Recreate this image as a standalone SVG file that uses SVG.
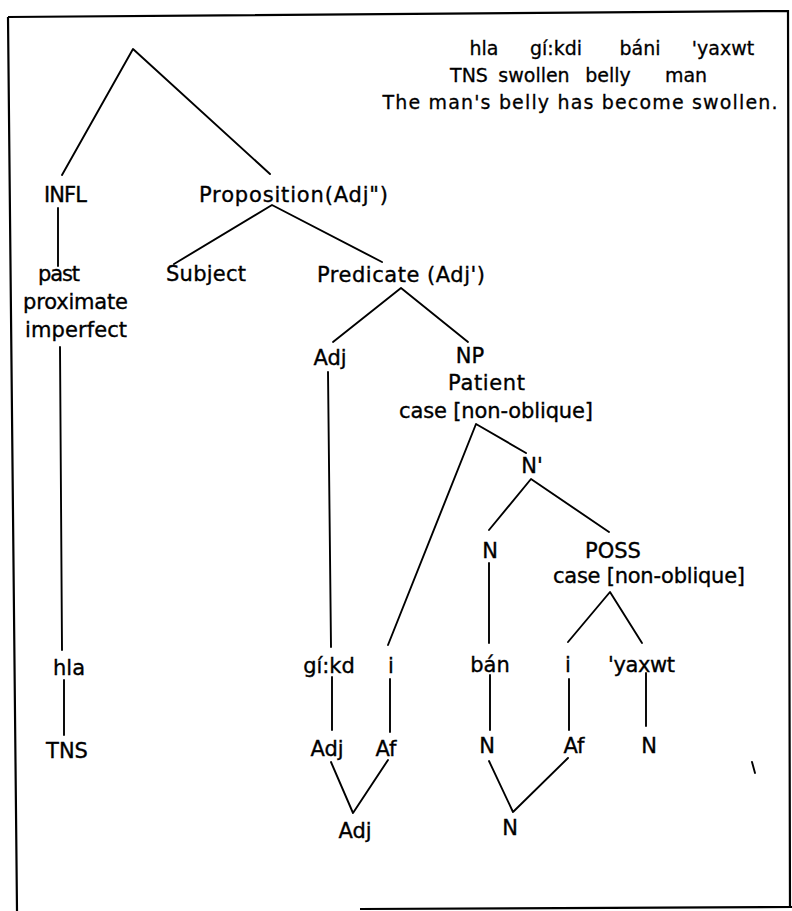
<svg xmlns="http://www.w3.org/2000/svg" width="792" height="911" viewBox="0 0 792 911">
  <style>
    .lbl { font-family: "DejaVu Sans", "Liberation Sans", sans-serif; font-size: 21px; fill: #000; stroke: #000; stroke-width: 0.35; }
    .gl { font-family: "DejaVu Sans", "Liberation Sans", sans-serif; font-size: 19px; fill: #000; stroke: #000; stroke-width: 0.3; text-anchor: middle; }
    .mid { text-anchor: middle; }
    .edge { stroke: #000; stroke-width: 1.9; fill: none; stroke-linecap: round; stroke-linejoin: round; }
    .frame { stroke: #000; stroke-width: 2.2; fill: none; }
  </style>
  <rect width="792" height="911" fill="#fff"/>

  <!-- page frame -->
  <g id="frame">
    <path class="frame" d="M8,17 L788,11 L790,908 M17,911 L8,17 M360,909 L792,907"/>
  </g>

  <!-- interlinear gloss -->
  <g id="gloss">
    <text class="gl" x="484" y="55">hla</text>
    <text class="gl" x="556" y="55">gí:kdi</text>
    <text class="gl" x="640" y="55">báni</text>
    <text class="gl" x="723" y="55">'yaxwt</text>
    <text class="gl" x="469" y="82">TNS</text>
    <text class="gl" x="534" y="82">swollen</text>
    <text class="gl" x="608" y="82">belly</text>
    <text class="gl" x="686" y="82">man</text>
    <text class="gl" x="580" y="109" textLength="395">The man's belly has become swollen.</text>
  </g>

  <!-- connectors -->
  <g id="connectors">
    <path class="edge" d="M62,175 L133,49 L270,174"/>
    <path class="edge" d="M58,208 L58,266"/>
    <path class="edge" d="M174,264 L272,205 L382,262"/>
    <path class="edge" d="M60,347 L62,650"/>
    <path class="edge" d="M64,680 L64,735"/>
    <path class="edge" d="M333,342 L401,288 L468,342"/>
    <path class="edge" d="M328,372 L331,647"/>
    <path class="edge" d="M388,645 L476,424 L526,453"/>
    <path class="edge" d="M489,530 L531,479 L609,532"/>
    <path class="edge" d="M489,563 L489,643"/>
    <path class="edge" d="M568,642 L610,592 L642,643"/>
    <path class="edge" d="M332,677 L332,730"/>
    <path class="edge" d="M390,679 L390,732"/>
    <path class="edge" d="M490,675 L490,730"/>
    <path class="edge" d="M569,679 L569,730"/>
    <path class="edge" d="M646,673 L646,726"/>
    <path class="edge" d="M331,762 L353,813 L388,760"/>
    <path class="edge" d="M489,761 L513,812 L568,758"/>
    <path class="edge" d="M752,762 L755,773" stroke-width="1.2"/>
  </g>

  <!-- nodes -->
  <g id="n-infl"><text class="lbl" x="44" y="202" textLength="43">INFL</text></g>
  <g id="n-proposition"><text class="lbl" x="199" y="202" textLength="189">Proposition(Adj")</text></g>
  <g id="n-tense"><text class="lbl" x="38" y="281" textLength="42">past</text>
    <text class="lbl" x="23" y="309" textLength="105">proximate</text>
    <text class="lbl" x="25" y="337" textLength="102">imperfect</text></g>
  <g id="n-subject"><text class="lbl" x="166" y="281" textLength="80">Subject</text></g>
  <g id="n-predicate"><text class="lbl" x="317" y="282" textLength="168">Predicate (Adj')</text></g>
  <g id="n-adj"><text class="lbl mid" x="330" y="365">Adj</text></g>
  <g id="n-np"><text class="lbl mid" x="470" y="363">NP</text>
    <text class="lbl" x="448" y="390" textLength="77">Patient</text>
    <text class="lbl" x="399" y="418" textLength="194">case [non-oblique]</text></g>
  <g id="n-nbar"><text class="lbl mid" x="532" y="473">N'</text></g>
  <g id="n-n"><text class="lbl mid" x="490" y="558">N</text></g>
  <g id="n-poss"><text class="lbl mid" x="613" y="558">POSS</text>
    <text class="lbl" x="553" y="583" textLength="192">case [non-oblique]</text></g>
  <g id="n-hla"><text class="lbl mid" x="69" y="675">hla</text></g>
  <g id="n-gikd"><text class="lbl mid" x="329" y="673">gí:kd</text></g>
  <g id="n-i1"><text class="lbl mid" x="391" y="673">i</text></g>
  <g id="n-ban"><text class="lbl mid" x="490" y="672">bán</text></g>
  <g id="n-i2"><text class="lbl mid" x="568" y="672">i</text></g>
  <g id="n-yaxwt"><text class="lbl" x="608" y="672" textLength="67">'yaxwt</text></g>
  <g id="n-tns"><text class="lbl mid" x="67" y="758">TNS</text></g>
  <g id="n-adj2"><text class="lbl mid" x="327" y="756">Adj</text></g>
  <g id="n-af1"><text class="lbl mid" x="386" y="756">Af</text></g>
  <g id="n-n2"><text class="lbl mid" x="487" y="753">N</text></g>
  <g id="n-af2"><text class="lbl mid" x="574" y="753">Af</text></g>
  <g id="n-n3"><text class="lbl mid" x="649" y="753">N</text></g>
  <g id="n-adj3"><text class="lbl mid" x="355" y="838">Adj</text></g>
  <g id="n-n4"><text class="lbl mid" x="510" y="835">N</text></g>
</svg>
